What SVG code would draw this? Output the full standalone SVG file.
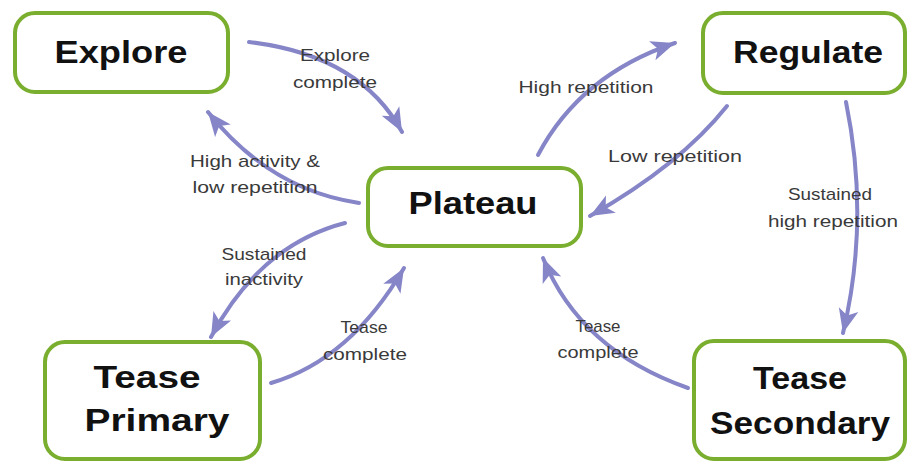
<svg xmlns="http://www.w3.org/2000/svg" width="908" height="461" viewBox="0 0 908 461">
  <style>
    .box { fill: #ffffff; stroke: #7aae2e; stroke-width: 4; }
    .title { font-family: "Liberation Sans", Arial, sans-serif; font-weight: bold; font-size: 32px; fill: #111111; text-anchor: middle; }
    .lbl { font-family: "Liberation Sans", Arial, sans-serif; font-size: 17px; fill: #3a3a3a; text-anchor: middle; }
    .conn { fill: none; stroke: #8585c8; stroke-width: 4; stroke-linecap: round; }
  </style>
  <defs>
    <marker id="ah" markerUnits="userSpaceOnUse" markerWidth="26" markerHeight="26" viewBox="0 0 26 26" refX="24" refY="13" orient="auto">
      <path d="M0,3 L24,13 L0,23 L6,13 Z" fill="#8585c8"/>
    </marker>
  </defs>
  <rect width="908" height="461" fill="#ffffff"/>

  <g id="connectors">
    <path class="conn" d="M249,42 Q360,55 402,132" marker-end="url(#ah)"/>
    <path class="conn" d="M359,203 Q270,190 208,112" marker-end="url(#ah)"/>
    <path class="conn" d="M345,223 Q260,245 211,337" marker-end="url(#ah)"/>
    <path class="conn" d="M271,383 Q350,360 404,268" marker-end="url(#ah)"/>
    <path class="conn" d="M538,155 Q580,75 675,43" marker-end="url(#ah)"/>
    <path class="conn" d="M727,106 Q680,165 590,216" marker-end="url(#ah)"/>
    <path class="conn" d="M846,102 Q870,220 843,333" marker-end="url(#ah)"/>
    <path class="conn" d="M688,388 Q580,350 543,258" marker-end="url(#ah)"/>
  </g>

  <g id="explore">
    <rect class="box" x="15" y="13" width="213" height="79" rx="20"/>
    <text class="title" x="121" y="63" textLength="133" lengthAdjust="spacingAndGlyphs">Explore</text>
  </g>
  <g id="regulate">
    <rect class="box" x="703" y="13" width="202" height="80" rx="20"/>
    <text class="title" x="808" y="63" textLength="150" lengthAdjust="spacingAndGlyphs">Regulate</text>
  </g>
  <g id="plateau">
    <rect class="box" x="368" y="168" width="213" height="78" rx="20"/>
    <text class="title" x="473" y="214" textLength="129" lengthAdjust="spacingAndGlyphs">Plateau</text>
  </g>
  <g id="tease-primary">
    <rect class="box" x="45" y="342" width="215" height="117" rx="20"/>
    <text class="title" x="147" y="388" textLength="107" lengthAdjust="spacingAndGlyphs">Tease</text>
    <text class="title" x="157" y="431" textLength="145" lengthAdjust="spacingAndGlyphs">Primary</text>
  </g>
  <g id="tease-secondary">
    <rect class="box" x="694" y="341" width="211" height="118" rx="20"/>
    <text class="title" x="800" y="389" textLength="94" lengthAdjust="spacingAndGlyphs">Tease</text>
    <text class="title" x="800" y="434" textLength="180" lengthAdjust="spacingAndGlyphs">Secondary</text>
  </g>

  <g id="labels">
    <text class="lbl" x="335" y="61" textLength="70" lengthAdjust="spacingAndGlyphs">Explore</text>
    <text class="lbl" x="335" y="88" textLength="84" lengthAdjust="spacingAndGlyphs">complete</text>
    <text class="lbl" x="255" y="167" textLength="130" lengthAdjust="spacingAndGlyphs">High activity &amp;</text>
    <text class="lbl" x="255" y="193" textLength="125" lengthAdjust="spacingAndGlyphs">low repetition</text>
    <text class="lbl" x="264" y="260" textLength="85" lengthAdjust="spacingAndGlyphs">Sustained</text>
    <text class="lbl" x="264" y="285" textLength="78" lengthAdjust="spacingAndGlyphs">inactivity</text>
    <text class="lbl" x="364" y="333" textLength="47" lengthAdjust="spacingAndGlyphs">Tease</text>
    <text class="lbl" x="365" y="360" textLength="84" lengthAdjust="spacingAndGlyphs">complete</text>
    <text class="lbl" x="586" y="93" textLength="135" lengthAdjust="spacingAndGlyphs">High repetition</text>
    <text class="lbl" x="675" y="162" textLength="134" lengthAdjust="spacingAndGlyphs">Low repetition</text>
    <text class="lbl" x="830" y="200" textLength="84" lengthAdjust="spacingAndGlyphs">Sustained</text>
    <text class="lbl" x="833" y="227" textLength="130" lengthAdjust="spacingAndGlyphs">high repetition</text>
    <text class="lbl" x="598" y="332" textLength="45" lengthAdjust="spacingAndGlyphs">Tease</text>
    <text class="lbl" x="598" y="358" textLength="81" lengthAdjust="spacingAndGlyphs">complete</text>
  </g>
</svg>
